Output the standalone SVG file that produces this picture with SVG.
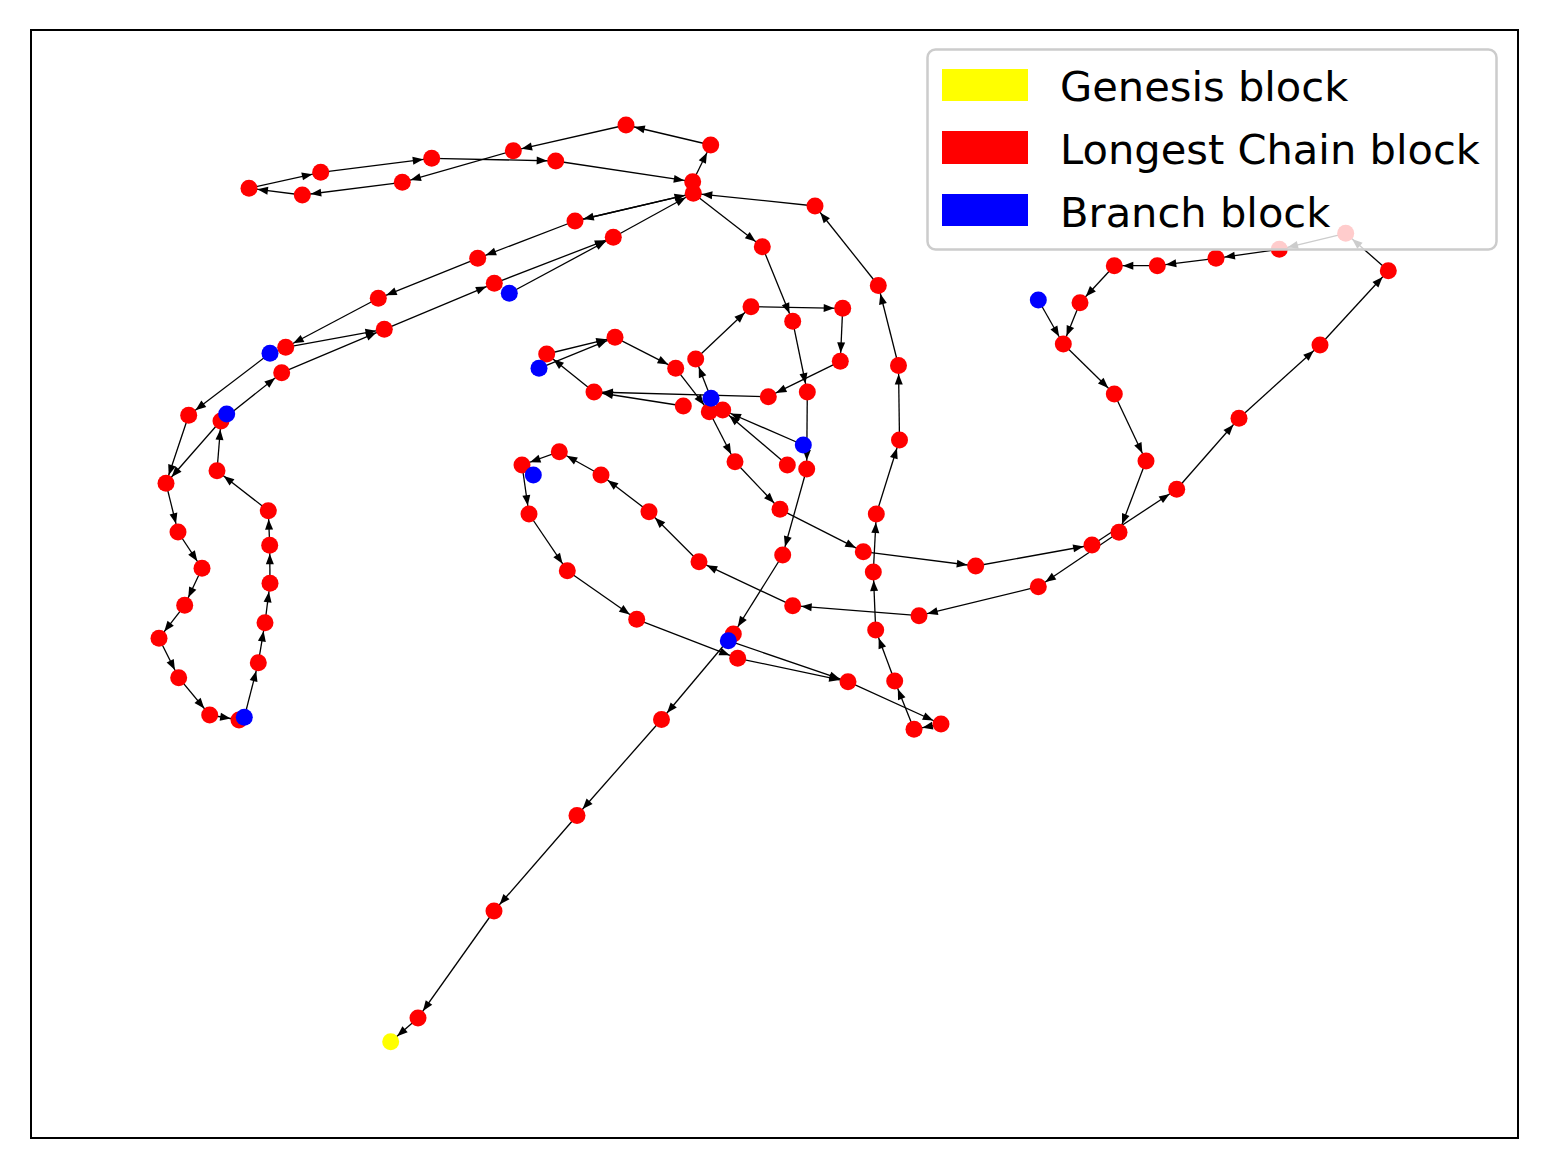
<svg xmlns="http://www.w3.org/2000/svg" width="1548" height="1168" viewBox="0 0 1548 1168">
<style>
.e{stroke:#000;stroke-width:1.3;fill:none;marker-end:url(#ah)}
.r{fill:#ff0000}
.b{fill:#0000ff}
.y{fill:#ffff00}
.lt{font-family:"DejaVu Sans","Liberation Sans",sans-serif;font-size:41.6px;fill:#000}
</style>
<defs>
<marker id="ah" markerUnits="userSpaceOnUse" markerWidth="20" markerHeight="10" viewBox="0 0 20 10" refX="18.5" refY="5" orient="auto" overflow="visible">
<path d="M-0.5,1 L10,5 L-0.5,9 z" fill="#000"/>
</marker>
</defs>
<rect x="0" y="0" width="1548" height="1168" fill="#fff"/>
<g id="edges">
<line class="e" x1="418" y1="1018" x2="390.7" y2="1041.7"/>
<line class="e" x1="494" y1="911" x2="418" y2="1018"/>
<line class="e" x1="577" y1="815.5" x2="494" y2="911"/>
<line class="e" x1="661.5" y1="719.5" x2="577" y2="815.5"/>
<line class="e" x1="733.3" y1="634" x2="661.5" y2="719.5"/>
<line class="e" x1="782.7" y1="555" x2="733.3" y2="634"/>
<line class="e" x1="806.7" y1="469" x2="782.7" y2="555"/>
<line class="e" x1="807.3" y1="392" x2="806.7" y2="469"/>
<line class="e" x1="792.7" y1="321.3" x2="807.3" y2="392"/>
<line class="e" x1="762.3" y1="246.7" x2="792.7" y2="321.3"/>
<line class="e" x1="693.3" y1="193.3" x2="762.3" y2="246.7"/>
<line class="e" x1="815" y1="206" x2="693.3" y2="193.3"/>
<line class="e" x1="878.3" y1="285.5" x2="815" y2="206"/>
<line class="e" x1="898.5" y1="365.5" x2="878.3" y2="285.5"/>
<line class="e" x1="899.5" y1="440" x2="898.5" y2="365.5"/>
<line class="e" x1="876.3" y1="514" x2="899.5" y2="440"/>
<line class="e" x1="873.3" y1="572" x2="876.3" y2="514"/>
<line class="e" x1="875.7" y1="630" x2="873.3" y2="572"/>
<line class="e" x1="894.7" y1="681" x2="875.7" y2="630"/>
<line class="e" x1="914" y1="729.3" x2="894.7" y2="681"/>
<line class="e" x1="941" y1="724" x2="914" y2="729.3"/>
<line class="e" x1="848" y1="681.7" x2="941" y2="724"/>
<line class="e" x1="737.7" y1="658.3" x2="848" y2="681.7"/>
<line class="e" x1="728.3" y1="640.7" x2="848" y2="681.7"/>
<line class="e" x1="636.7" y1="619.3" x2="737.7" y2="658.3"/>
<line class="e" x1="567.3" y1="570.7" x2="636.7" y2="619.3"/>
<line class="e" x1="529" y1="514" x2="567.3" y2="570.7"/>
<line class="e" x1="522" y1="465" x2="529" y2="514"/>
<line class="e" x1="559.3" y1="451.7" x2="522" y2="465"/>
<line class="e" x1="601" y1="475" x2="559.3" y2="451.7"/>
<line class="e" x1="649" y1="511.7" x2="601" y2="475"/>
<line class="e" x1="699" y1="561.7" x2="649" y2="511.7"/>
<line class="e" x1="792.7" y1="605.7" x2="699" y2="561.7"/>
<line class="e" x1="919" y1="615.7" x2="792.7" y2="605.7"/>
<line class="e" x1="1038.3" y1="586.7" x2="919" y2="615.7"/>
<line class="e" x1="1119" y1="532.3" x2="1038.3" y2="586.7"/>
<line class="e" x1="1146" y1="461" x2="1119" y2="532.3"/>
<line class="e" x1="1114.3" y1="394" x2="1146" y2="461"/>
<line class="e" x1="1063.3" y1="344" x2="1114.3" y2="394"/>
<line class="e" x1="1080" y1="302.7" x2="1063.3" y2="344"/>
<line class="e" x1="1038.3" y1="300" x2="1063.3" y2="344"/>
<line class="e" x1="1114.3" y1="265.7" x2="1080" y2="302.7"/>
<line class="e" x1="1157.3" y1="265.7" x2="1114.3" y2="265.7"/>
<line class="e" x1="1216" y1="258.3" x2="1157.3" y2="265.7"/>
<line class="e" x1="1279.3" y1="249.3" x2="1216" y2="258.3"/>
<line class="e" x1="1345.7" y1="233.3" x2="1279.3" y2="249.3"/>
<line class="e" x1="1388.3" y1="270.7" x2="1345.7" y2="233.3"/>
<line class="e" x1="1320" y1="345" x2="1388.3" y2="270.7"/>
<line class="e" x1="1239" y1="418.3" x2="1320" y2="345"/>
<line class="e" x1="1176.7" y1="489.3" x2="1239" y2="418.3"/>
<line class="e" x1="1092" y1="545" x2="1176.7" y2="489.3"/>
<line class="e" x1="975.7" y1="566" x2="1092" y2="545"/>
<line class="e" x1="863.3" y1="551.7" x2="975.7" y2="566"/>
<line class="e" x1="780" y1="509.3" x2="863.3" y2="551.7"/>
<line class="e" x1="735" y1="461.7" x2="780" y2="509.3"/>
<line class="e" x1="709.3" y1="411.7" x2="735" y2="461.7"/>
<line class="e" x1="675.7" y1="368.3" x2="709.3" y2="411.7"/>
<line class="e" x1="615" y1="337.3" x2="675.7" y2="368.3"/>
<line class="e" x1="546.7" y1="354" x2="615" y2="337.3"/>
<line class="e" x1="539" y1="368.3" x2="615" y2="337.3"/>
<line class="e" x1="594" y1="392" x2="546.7" y2="354"/>
<line class="e" x1="768.3" y1="396.7" x2="594" y2="392"/>
<line class="e" x1="683.3" y1="406" x2="594" y2="392"/>
<line class="e" x1="711" y1="398.3" x2="695.7" y2="359"/>
<line class="e" x1="695.7" y1="359" x2="751" y2="306.7"/>
<line class="e" x1="751" y1="306.7" x2="842.7" y2="308.3"/>
<line class="e" x1="842.7" y1="308.3" x2="840.3" y2="361.3"/>
<line class="e" x1="840.3" y1="361.3" x2="768.3" y2="396.7"/>
<line class="e" x1="803.3" y1="445" x2="722.7" y2="410"/>
<line class="e" x1="787.3" y1="465" x2="722.7" y2="410"/>
<line class="e" x1="692.7" y1="181.7" x2="710.7" y2="145"/>
<line class="e" x1="710.7" y1="145" x2="626" y2="125"/>
<line class="e" x1="626" y1="125" x2="513.3" y2="150.7"/>
<line class="e" x1="513.3" y1="150.7" x2="402.3" y2="182.3"/>
<line class="e" x1="402.3" y1="182.3" x2="302.3" y2="195"/>
<line class="e" x1="302.3" y1="195" x2="249" y2="188.3"/>
<line class="e" x1="249" y1="188.3" x2="320.7" y2="172.3"/>
<line class="e" x1="320.7" y1="172.3" x2="431.7" y2="158.3"/>
<line class="e" x1="431.7" y1="158.3" x2="555.7" y2="161"/>
<line class="e" x1="555.7" y1="161" x2="692.7" y2="181.7"/>
<line class="e" x1="693.3" y1="193.3" x2="575" y2="221"/>
<line class="e" x1="575" y1="221" x2="693.3" y2="193.3"/>
<line class="e" x1="613.3" y1="237.3" x2="693.3" y2="193.3"/>
<line class="e" x1="575" y1="221" x2="477.7" y2="258.3"/>
<line class="e" x1="477.7" y1="258.3" x2="378.3" y2="298.3"/>
<line class="e" x1="378.3" y1="298.3" x2="285.7" y2="347.3"/>
<line class="e" x1="285.7" y1="347.3" x2="384.3" y2="329.3"/>
<line class="e" x1="384.3" y1="329.3" x2="494.3" y2="283.3"/>
<line class="e" x1="494.3" y1="283.3" x2="613.3" y2="237.3"/>
<line class="e" x1="509.3" y1="293.3" x2="613.3" y2="237.3"/>
<line class="e" x1="281.7" y1="372.7" x2="384.3" y2="329.3"/>
<line class="e" x1="270" y1="353.3" x2="188.7" y2="415.3"/>
<line class="e" x1="221" y1="421" x2="281.7" y2="372.7"/>
<line class="e" x1="226.7" y1="414" x2="166" y2="483.3"/>
<line class="e" x1="188.7" y1="415.3" x2="166" y2="483.3"/>
<line class="e" x1="166" y1="483.3" x2="178" y2="532"/>
<line class="e" x1="178" y1="532" x2="202" y2="568.3"/>
<line class="e" x1="202" y1="568.3" x2="184.7" y2="605.3"/>
<line class="e" x1="184.7" y1="605.3" x2="159" y2="638.3"/>
<line class="e" x1="159" y1="638.3" x2="178.7" y2="677.7"/>
<line class="e" x1="178.7" y1="677.7" x2="209.7" y2="715"/>
<line class="e" x1="209.7" y1="715" x2="239" y2="720"/>
<line class="e" x1="244.3" y1="717.3" x2="258.3" y2="662.7"/>
<line class="e" x1="258.3" y1="662.7" x2="265" y2="622.7"/>
<line class="e" x1="265" y1="622.7" x2="270" y2="583.3"/>
<line class="e" x1="270" y1="583.3" x2="269.7" y2="545.3"/>
<line class="e" x1="269.7" y1="545.3" x2="268.3" y2="510.7"/>
<line class="e" x1="268.3" y1="510.7" x2="217" y2="470.7"/>
<line class="e" x1="217" y1="470.7" x2="221" y2="421"/>
</g>
<g id="nodes">
<g id="genesis"><circle class="y" cx="390.7" cy="1041.7" r="8.5"/></g>
<g id="n1"><circle class="r" cx="418" cy="1018" r="8.5"/></g>
<g id="n2"><circle class="r" cx="494" cy="911" r="8.5"/></g>
<g id="n3"><circle class="r" cx="577" cy="815.5" r="8.5"/></g>
<g id="n4"><circle class="r" cx="661.5" cy="719.5" r="8.5"/></g>
<g id="n5"><circle class="r" cx="733.3" cy="634" r="8.5"/></g>
<g id="n6"><circle class="r" cx="782.7" cy="555" r="8.5"/></g>
<g id="n7"><circle class="r" cx="806.7" cy="469" r="8.5"/></g>
<g id="n8"><circle class="r" cx="807.3" cy="392" r="8.5"/></g>
<g id="n9"><circle class="r" cx="792.7" cy="321.3" r="8.5"/></g>
<g id="n10"><circle class="r" cx="762.3" cy="246.7" r="8.5"/></g>
<g id="n67"><circle class="r" cx="692.7" cy="181.7" r="8.5"/></g>
<g id="n11"><circle class="r" cx="693.3" cy="193.3" r="8.5"/></g>
<g id="n12"><circle class="r" cx="815" cy="206" r="8.5"/></g>
<g id="n13"><circle class="r" cx="878.3" cy="285.5" r="8.5"/></g>
<g id="n14"><circle class="r" cx="898.5" cy="365.5" r="8.5"/></g>
<g id="n15"><circle class="r" cx="899.5" cy="440" r="8.5"/></g>
<g id="n16"><circle class="r" cx="876.3" cy="514" r="8.5"/></g>
<g id="n17"><circle class="r" cx="873.3" cy="572" r="8.5"/></g>
<g id="n18"><circle class="r" cx="875.7" cy="630" r="8.5"/></g>
<g id="n19"><circle class="r" cx="894.7" cy="681" r="8.5"/></g>
<g id="n20"><circle class="r" cx="914" cy="729.3" r="8.5"/></g>
<g id="n21"><circle class="r" cx="941" cy="724" r="8.5"/></g>
<g id="n22"><circle class="r" cx="848" cy="681.7" r="8.5"/></g>
<g id="n23"><circle class="r" cx="737.7" cy="658.3" r="8.5"/></g>
<g id="n24"><circle class="r" cx="636.7" cy="619.3" r="8.5"/></g>
<g id="n25"><circle class="r" cx="567.3" cy="570.7" r="8.5"/></g>
<g id="n26"><circle class="r" cx="529" cy="514" r="8.5"/></g>
<g id="n27"><circle class="r" cx="522" cy="465" r="8.5"/></g>
<g id="n28"><circle class="r" cx="559.3" cy="451.7" r="8.5"/></g>
<g id="n29"><circle class="r" cx="601" cy="475" r="8.5"/></g>
<g id="n30"><circle class="r" cx="649" cy="511.7" r="8.5"/></g>
<g id="n31"><circle class="r" cx="699" cy="561.7" r="8.5"/></g>
<g id="n32"><circle class="r" cx="792.7" cy="605.7" r="8.5"/></g>
<g id="n33"><circle class="r" cx="919" cy="615.7" r="8.5"/></g>
<g id="n34"><circle class="r" cx="1038.3" cy="586.7" r="8.5"/></g>
<g id="n35"><circle class="r" cx="1119" cy="532.3" r="8.5"/></g>
<g id="n36"><circle class="r" cx="1146" cy="461" r="8.5"/></g>
<g id="n37"><circle class="r" cx="1114.3" cy="394" r="8.5"/></g>
<g id="n38"><circle class="r" cx="1063.3" cy="344" r="8.5"/></g>
<g id="n39"><circle class="r" cx="1080" cy="302.7" r="8.5"/></g>
<g id="n40"><circle class="r" cx="1114.3" cy="265.7" r="8.5"/></g>
<g id="n41"><circle class="r" cx="1157.3" cy="265.7" r="8.5"/></g>
<g id="n42"><circle class="r" cx="1216" cy="258.3" r="8.5"/></g>
<g id="n43"><circle class="r" cx="1279.3" cy="249.3" r="8.5"/></g>
<g id="n44"><circle class="r" cx="1345.7" cy="233.3" r="8.5"/></g>
<g id="n45"><circle class="r" cx="1388.3" cy="270.7" r="8.5"/></g>
<g id="n46"><circle class="r" cx="1320" cy="345" r="8.5"/></g>
<g id="n47"><circle class="r" cx="1239" cy="418.3" r="8.5"/></g>
<g id="n48"><circle class="r" cx="1176.7" cy="489.3" r="8.5"/></g>
<g id="n49"><circle class="r" cx="1092" cy="545" r="8.5"/></g>
<g id="n50"><circle class="r" cx="975.7" cy="566" r="8.5"/></g>
<g id="n51"><circle class="r" cx="863.3" cy="551.7" r="8.5"/></g>
<g id="n52"><circle class="r" cx="780" cy="509.3" r="8.5"/></g>
<g id="n53"><circle class="r" cx="735" cy="461.7" r="8.5"/></g>
<g id="n54"><circle class="r" cx="709.3" cy="411.7" r="8.5"/></g>
<g id="n55"><circle class="r" cx="675.7" cy="368.3" r="8.5"/></g>
<g id="n56"><circle class="r" cx="615" cy="337.3" r="8.5"/></g>
<g id="n57"><circle class="r" cx="546.7" cy="354" r="8.5"/></g>
<g id="n58"><circle class="r" cx="594" cy="392" r="8.5"/></g>
<g id="n59"><circle class="r" cx="768.3" cy="396.7" r="8.5"/></g>
<g id="n60"><circle class="r" cx="683.3" cy="406" r="8.5"/></g>
<g id="n61"><circle class="r" cx="695.7" cy="359" r="8.5"/></g>
<g id="n62"><circle class="r" cx="751" cy="306.7" r="8.5"/></g>
<g id="n63"><circle class="r" cx="842.7" cy="308.3" r="8.5"/></g>
<g id="n64"><circle class="r" cx="840.3" cy="361.3" r="8.5"/></g>
<g id="n65"><circle class="r" cx="722.7" cy="410" r="8.5"/></g>
<g id="n66"><circle class="r" cx="787.3" cy="465" r="8.5"/></g>
<g id="n68"><circle class="r" cx="710.7" cy="145" r="8.5"/></g>
<g id="n69"><circle class="r" cx="626" cy="125" r="8.5"/></g>
<g id="n70"><circle class="r" cx="513.3" cy="150.7" r="8.5"/></g>
<g id="n71"><circle class="r" cx="402.3" cy="182.3" r="8.5"/></g>
<g id="n72"><circle class="r" cx="302.3" cy="195" r="8.5"/></g>
<g id="n73"><circle class="r" cx="249" cy="188.3" r="8.5"/></g>
<g id="n74"><circle class="r" cx="320.7" cy="172.3" r="8.5"/></g>
<g id="n75"><circle class="r" cx="431.7" cy="158.3" r="8.5"/></g>
<g id="n76"><circle class="r" cx="555.7" cy="161" r="8.5"/></g>
<g id="n77"><circle class="r" cx="575" cy="221" r="8.5"/></g>
<g id="n78"><circle class="r" cx="613.3" cy="237.3" r="8.5"/></g>
<g id="n79"><circle class="r" cx="477.7" cy="258.3" r="8.5"/></g>
<g id="n80"><circle class="r" cx="494.3" cy="283.3" r="8.5"/></g>
<g id="n81"><circle class="r" cx="378.3" cy="298.3" r="8.5"/></g>
<g id="n82"><circle class="r" cx="285.7" cy="347.3" r="8.5"/></g>
<g id="n83"><circle class="r" cx="384.3" cy="329.3" r="8.5"/></g>
<g id="n84"><circle class="r" cx="281.7" cy="372.7" r="8.5"/></g>
<g id="n85"><circle class="r" cx="188.7" cy="415.3" r="8.5"/></g>
<g id="n86"><circle class="r" cx="221" cy="421" r="8.5"/></g>
<g id="n87"><circle class="r" cx="166" cy="483.3" r="8.5"/></g>
<g id="n88"><circle class="r" cx="217" cy="470.7" r="8.5"/></g>
<g id="n89"><circle class="r" cx="268.3" cy="510.7" r="8.5"/></g>
<g id="n90"><circle class="r" cx="269.7" cy="545.3" r="8.5"/></g>
<g id="n91"><circle class="r" cx="270" cy="583.3" r="8.5"/></g>
<g id="n92"><circle class="r" cx="265" cy="622.7" r="8.5"/></g>
<g id="n93"><circle class="r" cx="258.3" cy="662.7" r="8.5"/></g>
<g id="n94"><circle class="r" cx="239" cy="720" r="8.5"/></g>
<g id="n95"><circle class="r" cx="209.7" cy="715" r="8.5"/></g>
<g id="n96"><circle class="r" cx="178.7" cy="677.7" r="8.5"/></g>
<g id="n97"><circle class="r" cx="159" cy="638.3" r="8.5"/></g>
<g id="n98"><circle class="r" cx="184.7" cy="605.3" r="8.5"/></g>
<g id="n99"><circle class="r" cx="202" cy="568.3" r="8.5"/></g>
<g id="n100"><circle class="r" cx="178" cy="532" r="8.5"/></g>
<g id="b1"><circle class="b" cx="509.3" cy="293.3" r="8.5"/></g>
<g id="b2"><circle class="b" cx="270" cy="353.3" r="8.5"/></g>
<g id="b3"><circle class="b" cx="226.7" cy="414" r="8.5"/></g>
<g id="b4"><circle class="b" cx="244.3" cy="717.3" r="8.5"/></g>
<g id="b5"><circle class="b" cx="539" cy="368.3" r="8.5"/></g>
<g id="b6"><circle class="b" cx="711" cy="398.3" r="8.5"/></g>
<g id="b7"><circle class="b" cx="803.3" cy="445" r="8.5"/></g>
<g id="b8"><circle class="b" cx="728.3" cy="640.7" r="8.5"/></g>
<g id="b9"><circle class="b" cx="533.3" cy="475" r="8.5"/></g>
<g id="b10"><circle class="b" cx="1038.3" cy="300" r="8.5"/></g>
</g>
<g id="legend">
<rect x="927.5" y="49.5" width="569" height="200" rx="8" ry="8" fill="#fff" fill-opacity="0.8" stroke="#cccccc" stroke-width="2.5"/>
<rect x="942" y="69" width="86" height="32" fill="#ffff00"/>
<rect x="942" y="131" width="86" height="33" fill="#ff0000"/>
<rect x="942" y="194" width="86" height="32" fill="#0000ff"/>
<text class="lt" x="1060" y="101">Genesis block</text>
<text class="lt" x="1060" y="164">Longest Chain block</text>
<text class="lt" x="1060" y="227">Branch block</text>
</g>
<rect id="frame" x="31" y="30" width="1487" height="1108" fill="none" stroke="#000" stroke-width="2"/>
</svg>
